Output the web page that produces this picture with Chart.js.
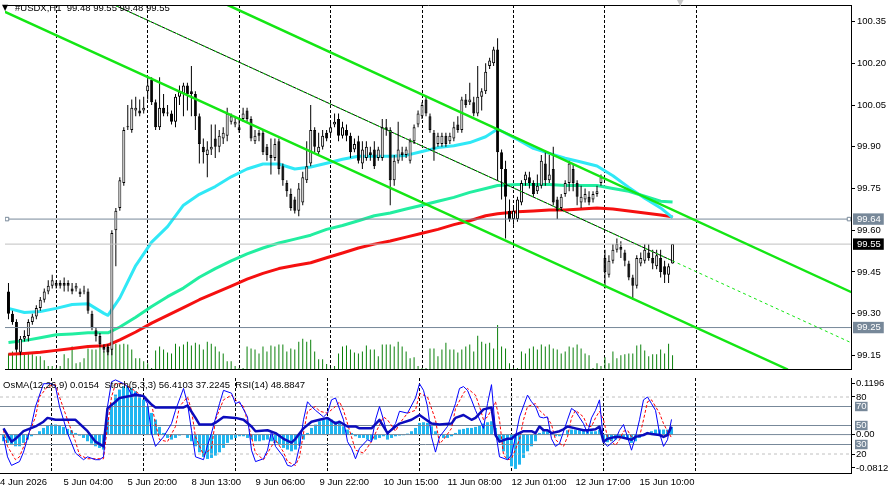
<!DOCTYPE html>
<html>
<head>
<meta charset="utf-8">
<title>#USDX,H1</title>
<script src="https://cdn.jsdelivr.net/npm/chart.js@4.4.1/dist/chart.umd.min.js"></script>
<style>
  html, body { margin: 0; padding: 0; background: #fff; }
  #wrap { position: relative; width: 888px; height: 495px; overflow: hidden; }
  canvas { position: absolute; left: 0; }
  #main { top: 0; }
  #ind { top: 374px; }
</style>
</head>
<body>
<div id="wrap">
  <canvas id="main" width="888" height="374"></canvas>
  <canvas id="ind" width="888" height="121"></canvas>
</div>
<script>
// #USDX H1, one entry per hourly bar

var opens = [
99.38,99.30,99.27,99.16,99.21,99.22,99.27,99.29,99.32,99.35,
99.38,99.40,99.41,99.41,99.41,99.41,99.39,99.39,99.38,99.38,
99.38,99.30,99.24,99.22,99.18,99.18,99.17,99.60,99.68,99.77,
99.97,99.96,100.03,100.03,100.03,100.10,100.14,100.06,99.97,100.04,
100.02,100.02,99.99,100.08,100.09,100.12,100.10,100.09,100.01,99.90,
99.87,99.89,99.93,99.90,99.93,99.94,99.99,99.98,99.97,100.00,
100.03,100.00,99.92,99.95,99.95,99.90,99.87,99.86,99.92,99.83,
99.77,99.73,99.71,99.67,99.70,99.78,99.84,99.96,99.88,99.90,
99.95,99.95,99.98,100.00,99.94,99.96,99.94,99.89,99.92,99.84,
99.86,99.88,99.89,99.86,99.86,99.97,99.96,99.78,99.85,99.88,
99.87,99.85,99.92,99.98,100.01,100.07,100.01,99.95,99.91,99.91,
99.94,99.92,99.93,99.98,99.96,100.07,100.06,100.06,100.02,100.08,
100.10,100.19,100.20,100.25,99.88,99.82,99.67,99.64,99.64,99.70,
99.78,99.79,99.77,99.74,99.76,99.84,99.78,99.82,99.71,99.68,
99.73,99.77,99.82,99.77,99.70,99.71,99.72,99.71,99.73,99.77,
99.50,99.44,99.49,99.53,99.54,99.52,99.48,99.43,99.40,99.48,
99.49,99.52,99.50,99.47,99.50,99.47,99.44,99.48];
var highs = [
99.41,99.31,99.28,99.22,99.24,99.28,99.30,99.33,99.36,99.39,
99.42,99.44,99.42,99.42,99.43,99.42,99.41,99.41,99.39,99.40,
99.39,99.31,99.25,99.23,99.19,99.19,99.60,99.68,99.79,99.97,
100.05,100.07,100.08,100.07,100.08,100.15,100.15,100.07,100.15,100.09,
100.05,100.03,100.09,100.12,100.13,100.13,100.19,100.10,100.02,99.93,
99.92,99.98,99.98,99.96,99.97,100.04,100.02,100.01,100.00,100.04,
100.04,100.01,99.96,99.96,99.96,99.91,99.93,99.93,99.93,99.84,
99.78,99.75,99.72,99.77,99.81,99.92,100.05,99.97,99.95,99.96,
99.96,99.99,100.02,100.02,99.99,99.98,99.95,99.93,99.94,99.92,
99.92,99.90,99.92,99.90,100.00,100.00,99.97,99.87,99.99,99.90,
99.90,99.93,99.98,100.03,100.06,100.08,100.02,99.96,99.95,99.95,
99.95,99.95,99.99,100.01,100.08,100.09,100.13,100.08,100.19,100.11,
100.20,100.22,100.26,100.29,99.89,99.85,99.71,99.69,99.72,99.78,
99.81,99.81,99.78,99.80,99.87,99.88,99.87,99.90,99.72,99.73,
99.78,99.85,99.84,99.78,99.76,99.75,99.74,99.74,99.76,99.80,
99.53,99.51,99.55,99.57,99.56,99.53,99.49,99.44,99.51,99.52,
99.55,99.55,99.53,99.53,99.53,99.49,99.48,99.55];
var lows = [
99.28,99.26,99.16,99.15,99.20,99.20,99.26,99.28,99.31,99.34,
99.37,99.39,99.39,99.39,99.38,99.38,99.37,99.38,99.36,99.37,
99.30,99.24,99.20,99.18,99.16,99.15,99.15,99.47,99.67,99.76,
99.96,99.95,100.01,100.01,100.02,100.07,100.05,99.96,99.96,100.01,
100.01,99.98,99.97,100.05,100.01,100.03,100.01,99.96,99.84,99.84,
99.79,99.87,99.86,99.88,99.91,99.92,99.98,99.97,99.95,99.99,
99.99,99.92,99.91,99.92,99.87,99.85,99.80,99.85,99.80,99.76,
99.72,99.67,99.66,99.65,99.69,99.77,99.83,99.88,99.87,99.89,
99.92,99.94,99.97,99.92,99.93,99.92,99.86,99.88,99.84,99.82,
99.85,99.85,99.82,99.85,99.85,99.94,99.69,99.76,99.84,99.85,
99.86,99.84,99.91,99.97,100.00,100.01,99.95,99.85,99.90,99.90,
99.90,99.91,99.92,99.95,99.95,100.04,100.05,100.01,100.01,100.03,
100.09,100.18,100.19,99.78,99.71,99.57,99.63,99.62,99.63,99.69,
99.76,99.75,99.72,99.73,99.75,99.76,99.77,99.69,99.64,99.67,
99.72,99.74,99.74,99.69,99.68,99.70,99.69,99.70,99.72,99.76,
99.39,99.43,99.48,99.52,99.50,99.47,99.42,99.35,99.39,99.47,
99.48,99.49,99.46,99.46,99.43,99.41,99.41,99.48];
var closes = [
99.30,99.27,99.17,99.21,99.22,99.27,99.29,99.32,99.35,99.38,
99.40,99.42,99.40,99.40,99.40,99.40,99.38,99.40,99.37,99.38,
99.31,99.25,99.22,99.19,99.17,99.16,99.59,99.67,99.78,99.96,
99.97,100.04,100.04,100.02,100.04,100.12,100.06,99.97,100.04,100.02,
100.02,99.99,100.08,100.10,100.12,100.09,100.09,100.01,99.91,99.88,
99.89,99.90,99.90,99.94,99.95,100.02,100.01,99.99,99.96,100.02,
100.00,99.93,99.94,99.94,99.88,99.87,99.86,99.91,99.82,99.78,
99.74,99.68,99.67,99.75,99.79,99.83,99.96,99.90,99.90,99.94,
99.93,99.97,99.99,99.94,99.97,99.94,99.88,99.91,99.85,99.89,
99.90,99.87,99.83,99.89,99.97,99.96,99.78,99.85,99.89,99.87,
99.89,99.92,99.97,100.02,100.05,100.02,99.96,99.89,99.94,99.94,
99.91,99.94,99.97,99.96,100.07,100.05,100.07,100.02,100.08,100.10,
100.17,100.21,100.25,99.88,99.82,99.72,99.64,99.67,99.71,99.77,
99.80,99.77,99.73,99.76,99.85,99.78,99.80,99.70,99.67,99.72,
99.77,99.84,99.77,99.72,99.72,99.73,99.70,99.73,99.74,99.79,
99.45,99.49,99.53,99.55,99.53,99.49,99.43,99.40,99.50,99.50,
99.53,99.50,99.48,99.51,99.45,99.44,99.47,99.55];
var volumes = [
16,18,15,16,15,16,15,13,13,9,
3,3,1,3,15,11,23,6,7,11,
21,20,20,23,18,25,23,26,25,26,
25,20,11,11,8,6,1,19,23,20,
17,16,26,23,25,28,24,27,25,20,
28,26,23,18,16,8,8,3,1,1,
23,21,20,16,23,18,24,23,25,25,
18,21,20,28,31,28,30,18,10,10,
5,1,3,16,23,24,20,17,16,18,
24,20,20,13,25,25,25,23,28,23,
18,11,12,3,1,1,21,21,13,20,
27,20,20,17,20,23,25,18,34,28,
26,27,21,45,23,21,6,1,1,18,
16,21,23,20,25,23,25,21,20,16,
18,23,22,25,21,16,14,1,6,3,
12,6,18,11,14,15,16,16,24,25,
19,13,15,15,20,16,26,14];

// moving averages (aqua / spring green / red), sampled bars
var maBars = [0,4,8,12,16,20,24,25,28,32,36,40,44,48,52,56,60,64,68,72,76,80,84,88,92,96,100,104,108,112,116,120,123,128,132,136,140,144,148,152,156,160,164,167];
var maFast = [99.319,99.304,99.308,99.319,99.333,99.336,99.301,99.294,99.357,99.473,99.557,99.613,99.690,99.729,99.757,99.792,99.820,99.838,99.838,99.820,99.827,99.841,99.855,99.866,99.866,99.866,99.869,99.883,99.897,99.904,99.915,99.936,99.964,99.926,99.894,99.876,99.859,99.845,99.831,99.796,99.754,99.715,99.680,99.645];
var maMid = [99.196,99.203,99.213,99.224,99.227,99.231,99.231,99.231,99.252,99.287,99.326,99.361,99.392,99.431,99.462,99.490,99.515,99.536,99.554,99.568,99.582,99.603,99.617,99.634,99.652,99.662,99.676,99.690,99.704,99.718,99.736,99.750,99.761,99.764,99.764,99.764,99.761,99.761,99.761,99.750,99.740,99.722,99.704,99.701];
var maSlow = [99.154,99.157,99.161,99.168,99.175,99.182,99.185,99.187,99.206,99.234,99.266,99.294,99.322,99.350,99.375,99.399,99.424,99.445,99.462,99.473,99.483,99.501,99.518,99.536,99.550,99.561,99.575,99.589,99.603,99.620,99.634,99.652,99.659,99.666,99.669,99.673,99.673,99.676,99.680,99.676,99.669,99.662,99.655,99.648];

// OsMA(12,26,9) per bar
var osma = [
-0.0141,-0.0176,-0.0212,-0.0247,-0.0247,-0.0176,-0.0106,-0.0035,0.0010,0.0071,
0.0141,0.0190,0.0212,0.0212,0.0190,0.0162,0.0120,0.0092,0.0035,-0.0021,
-0.0071,-0.0141,-0.0190,-0.0247,-0.0282,-0.0317,0.0317,0.0670,0.0846,0.0952,
0.1022,0.1022,0.0987,0.0917,0.0846,0.0740,0.0599,0.0458,0.0317,0.0162,
0.0035,-0.0071,-0.0106,-0.0071,-0.0021,0.0005,-0.0071,-0.0141,-0.0247,-0.0374,
-0.0472,-0.0515,-0.0494,-0.0444,-0.0374,-0.0282,-0.0176,-0.0106,-0.0071,-0.0035,
-0.0035,-0.0071,-0.0106,-0.0141,-0.0141,-0.0120,-0.0106,-0.0141,-0.0176,-0.0212,
-0.0282,-0.0317,-0.0353,-0.0317,-0.0233,-0.0106,0.0035,0.0141,0.0212,0.0282,
0.0317,0.0331,0.0317,0.0282,0.0247,0.0176,0.0106,0.0035,-0.0035,-0.0071,
-0.0071,-0.0106,-0.0120,-0.0106,-0.0071,-0.0035,-0.0106,-0.0071,-0.0035,-0.0021,
-0.0014,0.0021,0.0071,0.0141,0.0247,0.0261,0.0247,0.0176,0.0071,0.0005,
-0.0071,-0.0071,-0.0035,0.0035,0.0106,0.0120,0.0141,0.0141,0.0162,0.0190,
0.0233,0.0261,0.0282,0.0141,-0.0141,-0.0353,-0.0515,-0.0670,-0.0726,-0.0635,
-0.0494,-0.0353,-0.0247,-0.0141,0.0035,0.0071,0.0071,0.0049,-0.0035,-0.0035,
0.0005,0.0092,0.0106,0.0106,0.0092,0.0092,0.0071,0.0071,0.0071,0.0106,
-0.0106,-0.0162,-0.0141,-0.0106,-0.0071,-0.0071,-0.0106,-0.0176,-0.0141,-0.0071,
0.0005,0.0049,0.0071,0.0106,0.0106,0.0106,0.0106,0.0154];

// Stoch(5,3,3) main / signal and RSI(14)
var stochBars = [0,1,2,4,5,7,8,10,12,13,14,16,18,20,21,23,24,25,26,27,28,30,31,32,33,35,36,37,38,40,42,43,45,46,47,48,50,51,52,54,55,57,58,59,61,62,63,65,66,67,68,70,71,72,73,74,75,76,77,78,80,81,82,83,85,86,87,88,89,91,92,93,94,95,96,98,99,101,103,104,105,106,107,108,109,111,113,114,115,116,117,118,120,121,122,123,124,126,127,128,129,131,132,133,134,135,136,137,138,139,141,142,143,145,146,147,148,149,150,151,153,154,155,156,157,158,159,160,161,162,163,164,165,166,167];
var stochMain = [38,17,8,12,22,51,70,94,94,91,70,42,21,14,17,14,14,17,70,96,98,94,91,82,84,80,73,42,28,38,52,66,89,73,45,17,14,29,42,73,87,84,73,75,59,24,12,15,24,44,28,17,8,7,10,28,56,75,70,66,59,63,77,79,56,33,26,15,26,35,33,56,70,56,40,52,65,63,79,94,87,70,38,22,38,49,73,89,91,87,77,66,47,73,93,44,17,14,19,38,59,82,75,70,59,58,59,36,28,31,56,68,65,52,42,58,66,77,33,28,35,45,51,38,24,38,56,77,80,73,66,42,28,35,56.41];
var signalBars = [0,1,3,4,6,8,9,11,13,14,16,18,19,21,23,25,26,27,28,30,32,33,35,37,38,39,41,43,44,46,47,48,50,52,53,55,57,58,60,62,63,65,67,68,70,71,73,74,75,76,78,79,81,83,84,85,87,88,90,92,93,95,96,98,99,101,103,104,106,108,109,110,112,113,115,116,118,119,120,121,123,124,125,126,127,129,130,131,133,134,136,137,138,140,141,142,143,145,146,147,148,149,150,151,153,154,155,156,157,159,160,161,162,164,165,166,167];
var stochSignal = [45,28,14,17,38,59,80,91,93,80,56,33,19,15,15,15,49,80,94,94,89,86,80,73,52,35,33,49,70,80,66,38,19,26,56,77,82,77,70,38,21,14,28,35,22,12,8,17,42,65,70,65,63,70,75,66,38,24,21,33,42,59,56,44,52,63,66,84,80,56,31,35,47,68,84,89,82,70,56,59,75,56,19,14,15,35,56,70,73,66,58,51,35,28,38,58,66,59,49,49,58,65,56,38,29,35,44,45,38,38,56,75,77,63,52,44,37.22];
var rsiBars = [0,2,3,5,8,10,11,13,18,19,21,23,25,26,28,29,33,35,37,38,42,45,46,48,49,52,53,55,58,60,62,63,66,68,70,72,73,75,77,79,81,83,84,86,88,89,92,94,96,98,99,102,104,107,109,112,113,115,117,118,120,122,123,124,126,127,128,130,132,133,134,135,136,137,139,140,141,143,145,146,148,149,150,151,153,154,156,157,158,160,161,162,164,165,166,167];
var rsi = [47,33,36,44,49,54,58,56,56,52,44,33,28,68,75,79,82,81,72,69,69,69,71,58,51,51,53,59,58,56,49,44,45,42,36,32,36,47,54,56,58,52,54,49,49,47,47,56,42,49,52,56,61,52,51,52,58,61,56,58,67,69,40,33,36,36,40,44,44,42,49,45,45,42,44,46,49,47,45,45,46,49,33,36,38,38,36,35,38,40,42,41,40,38,40,48.88];

// drawn objects: horizontal levels and the falling channel (anchor bar, price)
var levelPrices = [99.64, 99.55, 99.25];
var levelAnchorBars = [-0.375, 211.375];
var upperBars = [55, 212], upperPrices = [100.4105, 99.377];
var midBars = [27, 167, 212], midPrices = [100.4072, 99.4899, 99.195];
var lowerBars = [-1, 196], lowerPrices = [100.3859, 99.0991];

// axes
var priceTicks = [99.15, 99.30, 99.45, 99.60, 99.75, 99.90, 100.05, 100.20, 100.35];
var gridBars = [12, 35, 58, 81, 104, 127, 150, 173];
var timeLabels = ['4 Jun 2026', '5 Jun 04:00', '5 Jun 20:00', '8 Jun 13:00', '9 Jun 06:00', '9 Jun 22:00', '10 Jun 15:00', '11 Jun 08:00', '12 Jun 01:00', '12 Jun 17:00', '15 Jun 10:00'];
var labelBars = [-0.875, 15, 31, 47, 63, 79, 95, 111, 127, 143, 159];
var stochLevels = [80, 20];
var rsiLevels = [70, 50, 30];
var osmaMax = 0.1196, osmaMin = -0.0812;

var X_MIN = -0.875, X_MAX = 211.875;
var P_MIN = 99.101, P_MAX = 100.4097;
var CLEAR = 'rgba(0,0,0,0)';

Chart.defaults.font.family = "'Liberation Sans', Arial, sans-serif";
Chart.defaults.font.size = 9.5;
Chart.defaults.color = '#000';

function pts(xs, ys) { return xs.map(function (x, k) { return { x: x, y: ys[k] }; }); }
function span(v) { return [{ x: X_MIN, y: v }, { x: X_MAX, y: v }]; }
function lineSet(data, color, width, order, extra) {
    var ds = { type: 'line', data: data, borderColor: color, borderWidth: width, pointRadius: 0,
               tension: 0, fill: false, clip: 0, order: order, borderJoinStyle: 'round' };
    for (var k in extra) ds[k] = extra[k];
    return ds;
}

var captionPlugin = {
    id: 'caption',
    afterDraw: function (chart, args, opts) {
        var ctx = chart.ctx;
        ctx.save();
        ctx.textBaseline = 'middle';
        (opts.items || []).forEach(function (it) {
            ctx.font = it.font;
            ctx.fillStyle = it.color;
            ctx.fillText(it.text, it.x, it.y);
        });
        ctx.restore();
    }
};

// ---------- main window ----------
var mainSets = [];
mainSets.push(lineSet(pts(upperBars, upperPrices), '#14e614', 2.5, 0, {}));
mainSets.push(lineSet(pts(lowerBars, lowerPrices), '#14e614', 2.5, 0, {}));
mainSets.push(lineSet(pts(midBars, midPrices), '#14e614', 1, 0, { borderDash: [3, 3] }));
mainSets.push(lineSet(pts(midBars.slice(0, 2), midPrices.slice(0, 2)), '#000000', 1, 1, {}));

mainSets.push(lineSet(pts(levelAnchorBars, [levelPrices[0], levelPrices[0]]), '#778899', 1, 2,
    { pointRadius: 2.5, pointStyle: 'rect', pointBorderColor: '#778899', pointBackgroundColor: '#ffffff', pointBorderWidth: 1 }));
mainSets.push(lineSet(span(levelPrices[1]), '#c0c0c0', 1, 2, {}));
mainSets.push(lineSet(span(levelPrices[2]), '#778899', 1, 2, {}));

mainSets.push({
    type: 'bar', order: 3, grouped: false, barThickness: 3, minBarLength: 1, inflateAmount: 0,
    borderWidth: 1, borderColor: '#000', borderSkipped: false,
    backgroundColor: function (c) { var i = c.dataIndex; return closes[i] >= opens[i] ? '#ffffff' : '#000000'; },
    data: opens.map(function (o, i) { return { x: i, y: [o, closes[i]] }; })
});
mainSets.push({
    type: 'bar', order: 4, grouped: false, barThickness: 1, minBarLength: 1, inflateAmount: 0,
    borderWidth: 0, backgroundColor: '#000',
    data: lows.map(function (l, i) { return { x: i, y: [l, highs[i]] }; })
});

mainSets.push(lineSet(pts(maBars, maFast), '#30e8f6', 3, 5, {}));
mainSets.push(lineSet(pts(maBars, maMid), '#22eea0', 3, 6, {}));
mainSets.push(lineSet(pts(maBars, maSlow), '#f51010', 3, 7, {}));

mainSets.push({
    type: 'bar', order: 8, yAxisID: 'yv', grouped: false, barThickness: 1, inflateAmount: 0,
    borderWidth: 0, backgroundColor: '#0a800a',
    data: volumes.map(function (v, i) { return { x: i, y: v }; })
});

new Chart(document.getElementById('main'), {
    type: 'line',
    data: { datasets: mainSets },
    plugins: [captionPlugin],
    options: {
        responsive: false, animation: false, events: [],
        layout: { padding: 0 },
        plugins: {
            legend: { display: false }, tooltip: { enabled: false },
            caption: { items: [
                { text: '\u25BC', x: 2, y: 8, font: "8px 'DejaVu Sans'", color: '#000' },
                { text: '#USDX,H1  99.48 99.55 99.48 99.55', x: 15, y: 8, font: "9.5px 'Liberation Sans'", color: '#000' },
                { text: '\u25BC', x: 676, y: 2, font: "11px 'DejaVu Sans'", color: '#c8c8c8' }
            ] }
        },
        scales: {
            x: {
                type: 'linear', position: 'bottom', min: X_MIN, max: X_MAX, offset: false,
                afterBuildTicks: function (s) { s.ticks = gridBars.map(function (v) { return { value: v }; }); },
                afterFit: function (s) { s.height = 1; s.paddingLeft = 0; s.paddingRight = 0; },
                ticks: { display: false, autoSkip: false },
                grid: { color: '#000', lineWidth: 1, drawTicks: false, offset: false },
                border: { display: true, color: '#000', width: 1, dash: [3, 2], z: 1 }
            },
            xt: {
                type: 'linear', position: 'top', min: X_MIN, max: X_MAX,
                afterFit: function (s) { s.height = 0; s.paddingLeft = 0; s.paddingRight = 0; },
                ticks: { display: false }, grid: { display: false },
                border: { display: true, color: '#000', width: 1, z: 1 }
            },
            y: {
                type: 'linear', position: 'right', min: P_MIN, max: P_MAX,
                afterBuildTicks: function (s) { s.ticks = priceTicks.concat(levelPrices).map(function (v) { return { value: v }; }); },
                afterFit: function (s) { s.width = 37; s.paddingTop = 0; s.paddingBottom = 0; },
                grid: {
                    drawOnChartArea: false, drawTicks: true, tickLength: 4, color: '#000',
                    tickColor: function (c) { return c.tick && levelPrices.indexOf(c.tick.value) >= 0 ? CLEAR : '#000'; }
                },
                border: { display: true, color: '#000', width: 1, z: 1 },
                ticks: {
                    autoSkip: false, padding: 2,
                    callback: function (v) { return Number(v).toFixed(2); },
                    color: function (c) { return c.tick && levelPrices.indexOf(c.tick.value) >= 0 ? '#fff' : '#000'; },
                    showLabelBackdrop: function (c) { return !!(c.tick && levelPrices.indexOf(c.tick.value) >= 0); },
                    backdropColor: function (c) { return c.tick && c.tick.value === levelPrices[1] ? '#000' : '#778899'; },
                    backdropPadding: { left: 4, right: 3, top: 0, bottom: 0 }
                }
            },
            yv: { type: 'linear', display: false, min: 0, max: 373 }
        }
    }
});

// ---------- indicator window ----------
var zeroOsc = 100 * (0 - osmaMin) / (osmaMax - osmaMin);
var OSMA_TOP_AT = 94.7, OSMA_BOTTOM_AT = 5.3;   // where MT4 prints the window max / min
var oscTickVals = [OSMA_TOP_AT, 80, 70, 50, zeroOsc, 30, 20, OSMA_BOTTOM_AT];

function oscLabel(v) {
    if (v === OSMA_TOP_AT) return osmaMax.toFixed(4);
    if (v === OSMA_BOTTOM_AT) return osmaMin.toFixed(4);
    if (v === zeroOsc) return '0.00';
    return String(v);
}
function isBoxed(c) { return !!(c.tick && rsiLevels.indexOf(c.tick.value) >= 0); }

// one tick per position: time labels plus the grid-only positions
var indTicks = labelBars.concat(gridBars.filter(function (g) { return labelBars.indexOf(g) < 0; }));

var indSets = [];
indSets.push({
    type: 'bar', order: 9, yAxisID: 'osma', grouped: false, barThickness: 3, inflateAmount: 0,
    borderWidth: 0, backgroundColor: '#20b6f0',
    data: osma.map(function (v, i) { return { x: i, y: v }; })
});
stochLevels.forEach(function (lv) { indSets.push(lineSet(span(lv), '#c0c0c0', 1, 8, { yAxisID: 'osc', borderDash: [3, 3] })); });
rsiLevels.forEach(function (lv) { indSets.push(lineSet(span(lv), '#778899', 1, 8, { yAxisID: 'osc' })); });
indSets.push(lineSet(span(0), '#778899', 1, 8, { yAxisID: 'osma' }));
indSets.push(lineSet(pts(signalBars, stochSignal), '#ff0000', 1, 3, { yAxisID: 'osc', borderDash: [3, 2] }));
indSets.push(lineSet(pts(stochBars, stochMain), '#0000ff', 1, 2, { yAxisID: 'osc' }));
indSets.push(lineSet(pts(rsiBars, rsi), '#0c0cbe', 2.5, 1, { yAxisID: 'osc' }));

new Chart(document.getElementById('ind'), {
    type: 'line',
    data: { datasets: indSets },
    plugins: [captionPlugin],
    options: {
        responsive: false, animation: false, events: [],
        layout: { padding: { top: 4, left: 0, right: 0, bottom: 0 } },
        plugins: {
            legend: { display: false }, tooltip: { enabled: false },
            caption: { items: [
                { text: 'OsMA(12,26,9) 0.0154  Stoch(5,3,3) 56.4103 37.2245  RSI(14) 48.8847', x: 3, y: 11, font: "9.5px 'Liberation Sans'", color: '#000' }
            ] }
        },
        scales: {
            x: {
                type: 'linear', position: 'bottom', min: X_MIN, max: X_MAX, offset: false,
                afterBuildTicks: function (s) { s.ticks = indTicks.map(function (v) { return { value: v }; }); },
                afterFit: function (s) { s.height = 22; s.paddingLeft = 0; s.paddingRight = 0; },
                ticks: {
                    autoSkip: false, maxRotation: 0, minRotation: 0, align: 'start', padding: 4,
                    callback: function (v) { var k = labelBars.indexOf(v); return k >= 0 ? timeLabels[k] : ''; }
                },
                grid: {
                    drawTicks: false, offset: false, lineWidth: 1,
                    color: function (c) { return c.tick && gridBars.indexOf(c.tick.value) >= 0 ? '#000' : CLEAR; }
                },
                border: { display: true, color: '#000', width: 1, dash: [3, 2], z: 1 }
            },
            osc: {
                type: 'linear', position: 'right', min: 0, max: 100,
                afterBuildTicks: function (s) { s.ticks = oscTickVals.map(function (v) { return { value: v }; }); },
                afterFit: function (s) { s.width = 37; s.paddingTop = 0; s.paddingBottom = 0; },
                grid: {
                    drawOnChartArea: false, drawTicks: true, tickLength: 4, color: '#000',
                    tickColor: function (c) { return isBoxed(c) ? CLEAR : '#000'; }
                },
                border: { display: true, color: '#000', width: 1, z: 1 },
                ticks: {
                    autoSkip: false, padding: 1,
                    callback: oscLabel,
                    color: function (c) { return isBoxed(c) ? '#fff' : '#000'; },
                    showLabelBackdrop: isBoxed,
                    backdropColor: '#778899',
                    backdropPadding: { left: 1, right: 1, top: -1, bottom: -1 }
                }
            },
            osma: { type: 'linear', display: false, min: osmaMin, max: osmaMax }
        }
    }
});
</script>
</body>
</html>
